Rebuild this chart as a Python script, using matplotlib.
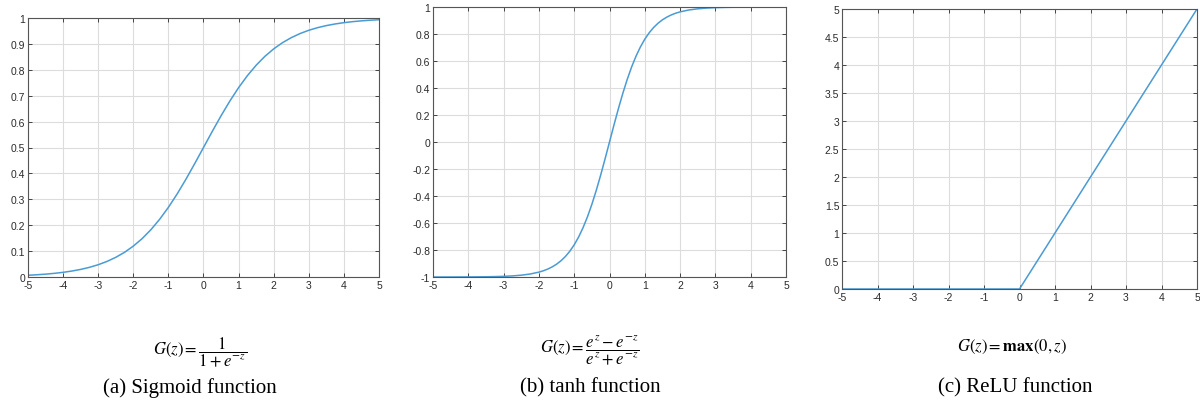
import matplotlib
matplotlib.use('Agg')
import matplotlib.pyplot as plt
from matplotlib.ticker import FuncFormatter

# valores
z_sig = [-5, -4.75, -4.5, -4.25, -4, -3.75, -3.5, -3.25, -3, -2.75, -2.5, -2.25, -2,
         -1.75, -1.5, -1.25, -1, -0.75, -0.5, -0.25, 0, 0.25, 0.5, 0.75, 1, 1.25,
         1.5, 1.75, 2, 2.25, 2.5, 2.75, 3, 3.25, 3.5, 3.75, 4, 4.25, 4.5, 4.75, 5]
sigmoide = [0.0067, 0.0086, 0.0110, 0.0141, 0.0180, 0.0230, 0.0293, 0.0373, 0.0474,
            0.0601, 0.0759, 0.0953, 0.1192, 0.1480, 0.1824, 0.2227, 0.2689, 0.3208,
            0.3775, 0.4378, 0.5000, 0.5622, 0.6225, 0.6792, 0.7311, 0.7773, 0.8176,
            0.8520, 0.8808, 0.9047, 0.9241, 0.9399, 0.9526, 0.9627, 0.9707, 0.9770,
            0.9820, 0.9859, 0.9890, 0.9914, 0.9933]
z_tanh = [-5, -4.75, -4.5, -4.25, -4, -3.75, -3.5, -3.25, -3, -2.75, -2.5, -2.25, -2,
          -1.875, -1.75, -1.625, -1.5, -1.375, -1.25, -1.125, -1, -0.875, -0.75,
          -0.625, -0.5, -0.375, -0.25, -0.125, 0, 0.125, 0.25, 0.375, 0.5, 0.625,
          0.75, 0.875, 1, 1.125, 1.25, 1.375, 1.5, 1.625, 1.75, 1.875, 2, 2.25, 2.5,
          2.75, 3, 3.25, 3.5, 3.75, 4, 4.25, 4.5, 4.75, 5]
tanh_vals = [-0.9999, -0.9999, -0.9998, -0.9996, -0.9993, -0.9989, -0.9982, -0.9970,
             -0.9951, -0.9919, -0.9866, -0.9780, -0.9640, -0.9540, -0.9414, -0.9253,
             -0.9051, -0.8799, -0.8483, -0.8093, -0.7616, -0.7039, -0.6351, -0.5546,
             -0.4621, -0.3584, -0.2449, -0.1244, 0.0, 0.1244, 0.2449, 0.3584, 0.4621,
             0.5546, 0.6351, 0.7039, 0.7616, 0.8093, 0.8483, 0.8799, 0.9051, 0.9253,
             0.9414, 0.9540, 0.9640, 0.9780, 0.9866, 0.9919, 0.9951, 0.9970, 0.9982,
             0.9989, 0.9993, 0.9996, 0.9998, 0.9999, 0.9999]
z_relu = [-5, 0, 5]
relu = [0, 0, 5]

xticks = list(range(-5, 6))
yticks_sig = [0, 0.1, 0.2, 0.3, 0.4, 0.5, 0.6, 0.7, 0.8, 0.9, 1]
yticks_tanh = [-1, -0.8, -0.6, -0.4, -0.2, 0, 0.2, 0.4, 0.6, 0.8, 1]
yticks_relu = [0, 0.5, 1, 1.5, 2, 2.5, 3, 3.5, 4, 4.5, 5]

formulas = [r'$G(z) = \dfrac{1}{1 + e^{-z}}$',
            r'$G(z) = \dfrac{e^{z} - e^{-z}}{e^{z} + e^{-z}}$',
            r'$G(z) = \mathbf{max}(0, z)$']
titulos = ['(a) Sigmoid function', '(b) tanh function', '(c) ReLU function']

plt.rcParams['mathtext.fontset'] = 'stix'
color_linea = '#4a9bd4'
gris = '#2b2b2b'

fig = plt.figure(figsize=(12, 4.1), dpi=100)
W, H = 1200, 410
# [izq, der, arriba, abajo] en pixeles
cajas = [(28, 379, 19, 278), (433, 786, 8, 278), (842, 1197, 10, 290)]
series = [(z_sig, sigmoide, (0, 1), yticks_sig),
          (z_tanh, tanh_vals, (-1, 1), yticks_tanh),
          (z_relu, relu, (0, 5), yticks_relu)]

fmt = FuncFormatter(lambda v, p: '%g' % v)

for (l, r, t, b), (x, y, ylim, yt) in zip(cajas, series):
    ax = fig.add_axes([l / W, 1 - b / H, (r - l) / W, (b - t) / H])
    ax.plot(x, y, color=color_linea, lw=1.1)
    ax.set_xlim(-5, 5)
    ax.set_ylim(*ylim)
    ax.set_xticks(xticks)
    ax.set_yticks(yt)
    ax.xaxis.set_major_formatter(fmt)
    ax.yaxis.set_major_formatter(fmt)
    ax.grid(True, color='#dcdcdc', lw=0.8)
    ax.tick_params(direction='in', length=3, width=0.6, colors=gris, labelsize=7.5,
                   top=True, right=True, pad=2)
    for s in ax.spines.values():
        s.set_color('#555555')
        s.set_linewidth(0.8)
    for lab in ax.get_xticklabels() + ax.get_yticklabels():
        lab.set_fontfamily('Liberation Sans')
        lab.set_color(gris)

# formulas y titulos
pos_formula = [(200, 352), (590, 350), (1012, 347)]
pos_titulo = [(190, 388), (590, 388), (1015, 388)]
for (fx, fy), f in zip(pos_formula, formulas):
    fig.text(fx / W, 1 - fy / H, f, ha='center', va='center', fontsize=12)
for (tx, ty), tt in zip(pos_titulo, titulos):
    fig.text(tx / W, 1 - ty / H, tt, ha='center', va='center', fontsize=15,
             family='Liberation Serif')

fig.savefig('out.png', dpi=100)
